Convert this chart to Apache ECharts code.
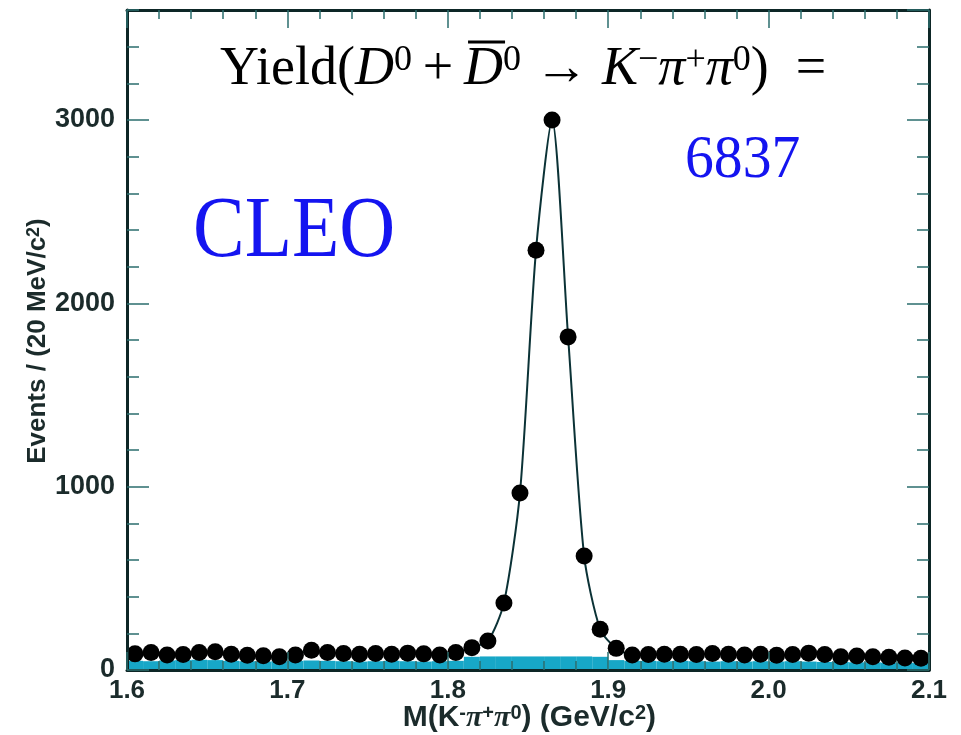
<!DOCTYPE html>
<html>
<head>
<meta charset="utf-8">
<script src="https://cdn.jsdelivr.net/npm/echarts@6/dist/echarts.min.js"></script>
<style>
  html, body { margin: 0; padding: 0; background: #ffffff; }
  #chart { width: 961px; height: 735px; }
</style>
</head>
<body>
<div id="chart"></div>
<script>
// Invariant mass bins (GeV/c^2), centre of each 10 MeV bin
const binCenters = [
  1.605, 1.615, 1.625, 1.635, 1.645, 1.655, 1.665, 1.675, 1.685, 1.695,
  1.705, 1.715, 1.725, 1.735, 1.745, 1.755, 1.765, 1.775, 1.785, 1.795,
  1.805, 1.815, 1.825, 1.835, 1.845, 1.855, 1.865, 1.875, 1.885, 1.895,
  1.905, 1.915, 1.925, 1.935, 1.945, 1.955, 1.965, 1.975, 1.985, 1.995,
  2.005, 2.015, 2.025, 2.035, 2.045, 2.055, 2.065, 2.075, 2.085, 2.095
];

// Observed events per bin
const events = [
  88, 95, 82, 84, 95, 100, 86, 80, 78, 72,
  82, 108, 96, 90, 86, 90, 86, 92, 88, 82,
  96, 122, 158, 366, 966, 2290, 3000, 1817, 622, 222,
  118, 82, 84, 86, 86, 84, 90, 86, 82, 86,
  80, 84, 92, 84, 72, 76, 72, 70, 66, 64
];

// Background component of the fit
const background = [
  50, 48, 52, 54, 56, 54, 50, 48, 46, 48,
  50, 52, 50, 48, 46, 48, 50, 48, 46, 48,
  50, 72, 74, 74, 74, 74, 74, 74, 74, 72,
  54, 50, 50, 48, 50, 48, 46, 48, 46, 48,
  46, 48, 46, 44, 44, 42, 42, 40, 40, 38
];

const yieldValue = '6837';
const experiment = 'CLEO';

const AXIS_COLOR = '#0d2626';
const TICK_COLOR = '#2b6e6e';
const LABEL_COLOR = '#1b2b2b';
const SANS = '"Liberation Sans", Arial, Helvetica, sans-serif';
const SERIF = '"Liberation Serif", "Times New Roman", "DejaVu Serif", serif';

const pairs = (ys) => binCenters.map((x, i) => [x, ys[i]]);

function xAxisDef(position, showLabels) {
  return {
    type: 'value', position: position, gridIndex: 0,
    min: 1.6, max: 2.1, interval: 0.1, z: 5,
    axisLine: { show: true, onZero: false, lineStyle: { color: AXIS_COLOR, width: 3 } },
    axisTick: { show: true, inside: true, length: 18, lineStyle: { color: TICK_COLOR, width: 1.5 } },
    minorTick: { show: true, splitNumber: 5, length: 9, lineStyle: { color: TICK_COLOR, width: 1.5 } },
    splitLine: { show: false },
    axisLabel: {
      show: showLabels, margin: 8, color: LABEL_COLOR,
      fontFamily: SANS, fontWeight: 'bold', fontSize: 26,
      formatter: (v) => v.toFixed(1)
    }
  };
}

function yAxisDef(position, interval, tickLen, showLabels, showLine) {
  return {
    type: 'value', position: position, gridIndex: 0,
    min: 0, max: 3600, interval: interval, z: 5,
    axisLine: { show: showLine, onZero: false, lineStyle: { color: AXIS_COLOR, width: 3 } },
    axisTick: { show: true, inside: true, length: tickLen, lineStyle: { color: TICK_COLOR, width: 1.5 } },
    splitLine: { show: false },
    axisLabel: {
      show: showLabels, margin: 12, color: LABEL_COLOR, showMaxLabel: false,
      fontFamily: SANS, fontWeight: 'bold', fontSize: 27,
      formatter: (v) => String(v)
    }
  };
}

// Yield formula, built token by token so the bar over the anti-D can be placed
const FORMULA_SIZE = 54;
const SUP_SIZE = 36;
const fontOf = {
  r: FORMULA_SIZE + 'px ' + SERIF,
  i: 'italic ' + FORMULA_SIZE + 'px ' + SERIF,
  s: SUP_SIZE + 'px ' + SERIF
};
const formulaTokens = [
  ['r', 'Yield('], ['i', 'D'], ['s', '0'], ['r', '\u2009+\u2009'], ['i', 'D'], ['s', '0'],
  ['r', ' \u2192 '], ['i', 'K'], ['s', '\u2212'], ['i', 'π'], ['s', '+'], ['i', 'π'], ['s', '0'],
  ['r', ')  =']
];
const FORMULA_X = 220;
const FORMULA_Y = 70;
const FORMULA_SCALE = 1.0;
const measureCtx = document.createElement('canvas').getContext('2d');
let barX = 0, barW = 0, runX = 0;
formulaTokens.forEach(([k, t], idx) => {
  measureCtx.font = fontOf[k];
  const w = measureCtx.measureText(t).width;
  if (idx === 4) { barX = runX; barW = w; }
  runX += w;
});
const formulaText = formulaTokens.map(([k, t]) => '{' + k + '|' + t + '}').join('');

const chart = echarts.init(document.getElementById('chart'), null, { renderer: 'canvas' });

chart.setOption({
  animation: false,
  backgroundColor: '#ffffff',
  grid: { left: 127, right: 32, top: 10, bottom: 65, containLabel: false, outerBoundsMode: 'none' },
  xAxis: [xAxisDef('bottom', true), xAxisDef('top', false)],
  yAxis: [
    yAxisDef('left', 200, 12, false, true),
    yAxisDef('left', 1000, 22, true, false),
    yAxisDef('right', 200, 12, false, true),
    yAxisDef('right', 1000, 22, false, false)
  ],
  series: [
    {
      name: 'background', type: 'bar', xAxisIndex: 0, yAxisIndex: 0,
      data: pairs(background), barWidth: 16,
      itemStyle: { color: '#17a7c7' }, silent: true, z: 1
    },
    {
      name: 'fit', type: 'line', xAxisIndex: 0, yAxisIndex: 0,
      data: pairs(events), smooth: 0.25, showSymbol: false,
      lineStyle: { color: '#0b3236', width: 2 }, silent: true, z: 2
    },
    {
      name: 'data', type: 'scatter', xAxisIndex: 0, yAxisIndex: 0,
      data: pairs(events), symbol: 'circle', symbolSize: 17,
      itemStyle: { color: '#000000', opacity: 1 }, silent: true, z: 3
    }
  ],
  graphic: [
    {
      type: 'text', x: FORMULA_X, y: FORMULA_Y, scaleX: FORMULA_SCALE, z: 10,
      style: {
        text: formulaText,
        align: 'left', verticalAlign: 'middle',
        fill: '#000000',
        rich: {
          r: { fontFamily: SERIF, fontSize: FORMULA_SIZE, fill: '#000', verticalAlign: 'bottom' },
          i: { fontFamily: SERIF, fontSize: FORMULA_SIZE, fontStyle: 'italic', fill: '#000', verticalAlign: 'bottom' },
          s: { fontFamily: SERIF, fontSize: SUP_SIZE, fill: '#000', verticalAlign: 'top' }
        }
      }
    },
    {
      type: 'line', z: 10,
      shape: {
        x1: FORMULA_X + (barX + 4) * FORMULA_SCALE, y1: 42,
        x2: FORMULA_X + (barX + barW + 2) * FORMULA_SCALE, y2: 42
      },
      style: { stroke: '#000000', lineWidth: 3 }
    },
    {
      type: 'text', x: 685, y: 161, scaleX: 0.93, z: 10,
      style: {
        text: yieldValue, fontFamily: SERIF, fontSize: 62, fill: '#1414f0',
        align: 'left', verticalAlign: 'middle'
      }
    },
    {
      type: 'text', x: 193, y: 233, scaleX: 0.9, z: 10,
      style: {
        text: experiment, fontFamily: SERIF, fontSize: 86, fill: '#1414f0',
        align: 'left', verticalAlign: 'middle'
      }
    },
    {
      type: 'text', x: 38, y: 341, rotation: Math.PI / 2, z: 10,
      style: {
        text: '{b|Events / (20 MeV/c}{s|2}{b|)}',
        align: 'center', verticalAlign: 'middle',
        rich: {
          b: { fontFamily: SANS, fontWeight: 'bold', fontSize: 26, fill: LABEL_COLOR, verticalAlign: 'bottom' },
          s: { fontFamily: SANS, fontWeight: 'bold', fontSize: 18, fill: LABEL_COLOR, verticalAlign: 'top' }
        }
      }
    },
    {
      type: 'text', x: 656, y: 718, z: 10,
      style: {
        text: '{b|M(K}{s|-}{p|π}{s|+}{p|π}{s|0}{b|) (GeV/c}{s|2}{b|)}',
        align: 'right', verticalAlign: 'middle',
        rich: {
          b: { fontFamily: SANS, fontWeight: 'bold', fontSize: 30, fill: LABEL_COLOR, verticalAlign: 'bottom' },
          p: { fontFamily: SERIF, fontWeight: 'bold', fontStyle: 'italic', fontSize: 30, fill: LABEL_COLOR, verticalAlign: 'bottom' },
          s: { fontFamily: SANS, fontWeight: 'bold', fontSize: 20, fill: LABEL_COLOR, verticalAlign: 'top' }
        }
      }
    }
  ]
});
</script>
</body>
</html>
